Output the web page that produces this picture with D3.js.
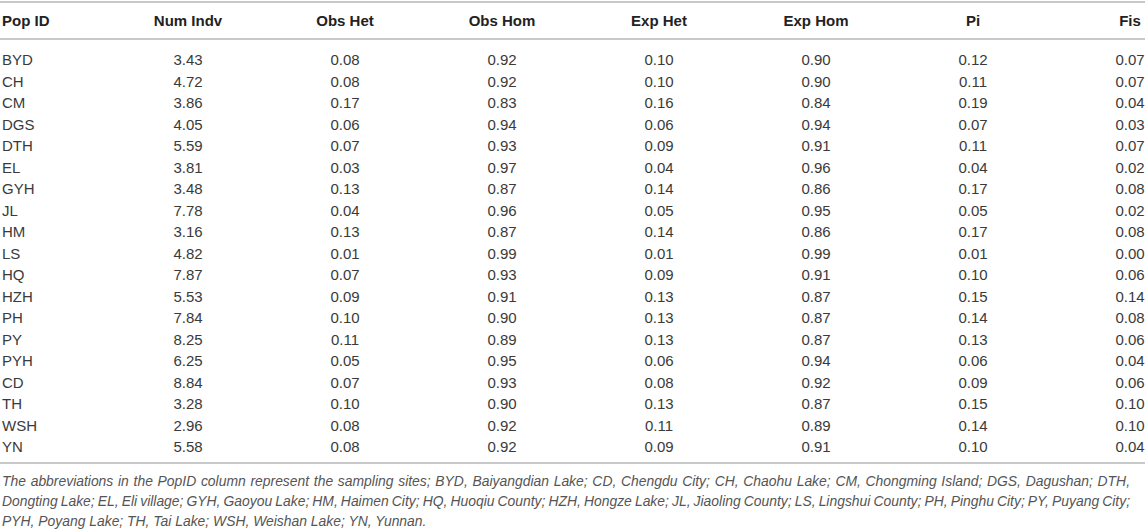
<!DOCTYPE html>
<html>
<head>
<meta charset="utf-8">
<script src="https://cdn.jsdelivr.net/npm/d3@7"></script>
<style>
  body { margin: 0; background: #fff; }
  svg { display: block; }
</style>
</head>
<body>
<svg id="tbl" width="1145" height="530"></svg>
<script>
// Column headers and the values, one array per column
const headers  = ["Pop ID", "Num Indv", "Obs Het", "Obs Hom", "Exp Het", "Exp Hom", "Pi", "Fis"]
const popIds   = ["BYD","CH","CM","DGS","DTH","EL","GYH","JL","HM","LS","HQ","HZH","PH","PY","PYH","CD","TH","WSH","YN"]
const numIndv  = [3.43,4.72,3.86,4.05,5.59,3.81,3.48,7.78,3.16,4.82,7.87,5.53,7.84,8.25,6.25,8.84,3.28,2.96,5.58]
const obsHet   = [0.08,0.08,0.17,0.06,0.07,0.03,0.13,0.04,0.13,0.01,0.07,0.09,0.10,0.11,0.05,0.07,0.10,0.08,0.08]
const obsHom   = [0.92,0.92,0.83,0.94,0.93,0.97,0.87,0.96,0.87,0.99,0.93,0.91,0.90,0.89,0.95,0.93,0.90,0.92,0.92]
const expHet   = [0.10,0.10,0.16,0.06,0.09,0.04,0.14,0.05,0.14,0.01,0.09,0.13,0.13,0.13,0.06,0.08,0.13,0.11,0.09]
const expHom   = [0.90,0.90,0.84,0.94,0.91,0.96,0.86,0.95,0.86,0.99,0.91,0.87,0.87,0.87,0.94,0.92,0.87,0.89,0.91]
const piVals   = [0.12,0.11,0.19,0.07,0.11,0.04,0.17,0.05,0.17,0.01,0.10,0.15,0.14,0.13,0.06,0.09,0.15,0.14,0.10]
const fisVals  = [0.07,0.07,0.04,0.03,0.07,0.02,0.08,0.02,0.08,0.00,0.06,0.14,0.08,0.06,0.04,0.06,0.10,0.10,0.04]
const footnote = [
  "The abbreviations in the PopID column represent the sampling sites; BYD, Baiyangdian Lake; CD, Chengdu City; CH, Chaohu Lake; CM, Chongming Island; DGS, Dagushan; DTH,",
  "Dongting Lake; EL, Eli village; GYH, Gaoyou Lake; HM, Haimen City; HQ, Huoqiu County; HZH, Hongze Lake; JL, Jiaoling County; LS, Lingshui County; PH, Pinghu City; PY, Puyang City;",
  "PYH, Poyang Lake; TH, Tai Lake; WSH, Weishan Lake; YN, Yunnan."
]

const svg = d3.select('#tbl')
const font = "'Liberation Sans', Arial, sans-serif"

const numCols = [numIndv, obsHet, obsHom, expHet, expHom, piVals, fisVals]
const fmt = d3.format('.2f')

// x : Pop ID aligné à gauche, le reste centré
const colX = d3.scalePoint().domain(headers.slice(1)).range([188, 1130])
// y : lignes de base des rangées
const rowY = d3.scalePoint().domain(popIds).range([65, 452])

// lignes horizontales
const lineColor = '#c8c8c8'
;[2, 39, 463].forEach(y => {
  svg.append('line').attr('x1', 0).attr('x2', 1145).attr('y1', y).attr('y2', y)
    .attr('stroke', lineColor).attr('stroke-width', 2)
})

// en-têtes
svg.append('g').selectAll('text').data(headers).join('text')
  .attr('x', (d, i) => i === 0 ? 2 : colX(d))
  .attr('y', 26)
  .attr('text-anchor', (d, i) => i === 0 ? 'start' : 'middle')
  .attr('font-family', font).attr('font-size', 15).attr('font-weight', 'bold')
  .attr('fill', '#222')
  .text(d => d)

// rangées de données
const rows = svg.append('g').selectAll('g').data(popIds).join('g')
  .attr('transform', d => `translate(0,${rowY(d)})`)

rows.append('text')
  .attr('x', 2)
  .attr('font-family', font).attr('font-size', 15).attr('fill', '#3a3a3a')
  .text(d => d)

numCols.forEach((col, c) => {
  rows.append('text')
    .attr('x', colX(headers[c + 1]))
    .attr('text-anchor', 'middle')
    .attr('font-family', font).attr('font-size', 15).attr('fill', '#3a3a3a')
    .text((d, i) => fmt(col[i]))
})

// note de bas de tableau — justifiée sauf la dernière ligne
const notes = svg.append('g').selectAll('text').data(footnote).join('text')
  .attr('x', 2)
  .attr('y', (d, i) => 486 + i * 20)
  .attr('font-family', font).attr('font-size', 13.9).attr('font-style', 'italic')
  .attr('fill', '#555')
  .text(d => d)

notes.each(function (d, i) {
  if (i === footnote.length - 1) return
  const w = this.getComputedTextLength()
  const gaps = d.split(' ').length - 1
  d3.select(this).attr('word-spacing', (1128 - w) / gaps)
})
</script>
</body>
</html>
